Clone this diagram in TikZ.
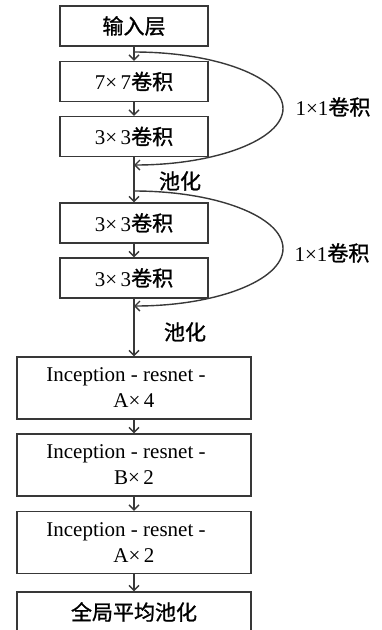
\documentclass[tikz,border=0pt]{standalone}
\usepackage{fontspec}
\setmainfont{Liberation Serif}
\newfontfamily\cjk{Noto Sans CJK SC}[FakeBold=1.2]
\usetikzlibrary{arrows.meta}
\colorlet{ln}{black!78}

\begin{document}
\begin{tikzpicture}[x=1pt,y=-1pt,line width=1.4pt,
    >={Straight Barb[length=5pt,width=10pt]},
    font=\fontsize{21}{26}\selectfont,
    blk/.style={draw=ln,minimum width=148pt,minimum height=40pt,inner sep=0pt},
    wblk/.style={draw=ln,minimum width=234pt,minimum height=62pt,inner sep=0pt,align=center},
    arr/.style={->,draw=ln}]
        \useasboundingbox (0,0) rectangle (382,630);
        \clip (0,0) rectangle (382,630);
        % stem
        \node[blk] (b1) at (134,26) {\cjk 输入层};
        \node[blk] (b2) at (134,81.5) {7×\,7\cjk 卷积};
        \node[blk] (b3) at (134,136.5) {3×\,3\cjk 卷积};
        \node[blk] (b4) at (134,223) {3×\,3\cjk 卷积};
        \node[blk] (b5) at (134,278) {3×\,3\cjk 卷积};
        % inception-resnet blocks
        \node[wblk] (b6) at (134,388) {Inception - resnet -\kern16pt\\A×\,4};
        \node[wblk] (b7) at (134,465) {Inception - resnet -\kern16pt\\B×\,2};
        \node[wblk] (b8) at (134,542.5) {Inception - resnet -\kern16pt\\A×\,2};
        \node[blk,minimum width=234pt] (b9) at (134,612) {\cjk 全局平均池化};
        \node (p1) at (180,181) {\cjk 池化};
        \node (p2) at (185,332) {\cjk 池化};
        \node (k1) at (333,107) {1×1\cjk 卷积};
        \node (k2) at (332,253) {1×1\cjk 卷积};
        % shortcut loops
        \coordinate (s1) at (134,52);
        \coordinate (r1) at (283,108.5);
        \coordinate (e1) at (134,165);
        \coordinate (s2) at (134,191);
        \coordinate (r2) at (283,248.5);
        \coordinate (e2) at (134,306);
        \path[arr] (b1) edge (b2) (b2) edge (b3) (b3) edge (b4) (b4) edge (b5)
          (b5) edge (b6) (b6) edge (b7) (b7) edge (b8) (b8) edge (b9);
        \draw[arr] (s1) .. controls +(82,0) and +(0,-31) .. (r1) .. controls +(0,31) and +(82,0) .. (e1);
        \draw[arr] (s2) .. controls +(82,0) and +(0,-32) .. (r2) .. controls +(0,32) and +(82,0) .. (e2);
      \end{tikzpicture}
\end{document}
